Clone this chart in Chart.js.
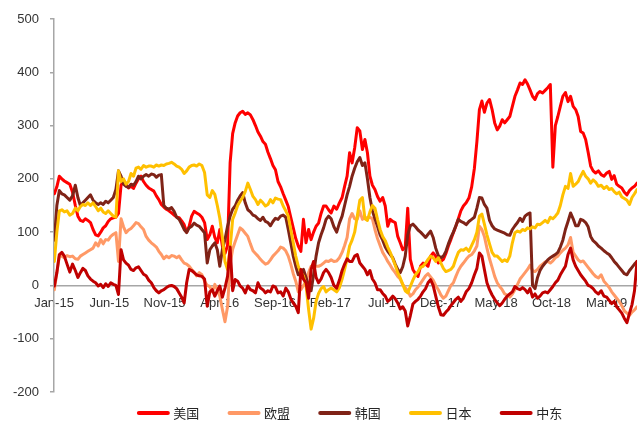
<!DOCTYPE html>
<html>
<head>
<meta charset="utf-8">
<script src="https://cdn.jsdelivr.net/npm/chart.js@4/dist/chart.umd.min.js"></script>
<style>
  html, body { margin: 0; padding: 0; background: #fff; }
  canvas { display: block; }
</style>
</head>
<body>
<canvas id="chart" width="638" height="421"></canvas>
<script>
// Weekly series, first observation on 2 Jan 2015
const firstWeek = { year: 2015, month: 0, day: 2 };

const seriesNames = ['美国', '欧盟', '韩国', '日本', '中东'];
const seriesColors = ['#FF0000', '#FF9966', '#7F2317', '#FFC000', '#C00000'];

const tickLabels = ['Jan-15', 'Jun-15', 'Nov-15', 'Apr-16', 'Sep-16', 'Feb-17',
                    'Jul-17', 'Dec-17', 'May-18', 'Oct-18', 'Mar-19'];

const usData = [
  172, 185, 205, 200, 196, 193, 190, 175, 150, 130,
  122, 120, 125, 122, 118, 105, 95, 93, 100, 108,
  112, 120, 125, 127, 128, 135, 188, 196, 190, 183,
  186, 182, 192, 200, 205, 195, 188, 183, 180, 177,
  168, 161, 152, 147, 143, 140, 136, 132, 128, 127,
  121, 114, 100, 111, 130, 139, 136, 133, 128, 118,
  86, 95, 111, 90, 80, 105, 74, 60, 75, 230,
  285, 305, 318, 324, 327, 321, 324, 320, 311, 300,
  288, 280, 270, 265, 250, 238, 225, 217, 195, 185,
  172, 160, 148, 128, 108, 88, 74, 64, 124, 80,
  105, 86, 100, 111, 117, 135, 149, 149, 142, 136,
  149, 143, 155, 165, 186, 205, 249, 230, 258, 296,
  290, 255, 274, 249, 205, 188, 180, 167, 158, 165,
  149, 111, 124, 120, 118, 92, 80, 67, 72, 145,
  49, 30, 22, 17, 36, 42, 40, 36, 55, 61,
  55, 42, 45, 49, 60, 74, 86, 99, 111, 125,
  140, 149, 155, 164, 185, 220, 270, 330, 346, 325,
  342, 349, 330, 305, 292, 299, 311, 305, 311, 317,
  336, 355, 367, 380, 377, 386, 378, 367, 355, 349,
  360, 364, 361, 366, 371, 377, 222, 300, 317, 336,
  355, 362, 345, 355, 336, 330, 317, 289, 286, 274,
  250, 224, 215, 211, 215, 208, 205, 211, 214, 199,
  206, 190, 186, 183, 175, 170, 178, 183, 186, 192
];

const euData = [
  -8, 24, 55, 55, 52, 56, 54, 55, 50, 49,
  55, 58, 61, 64, 67, 70, 80, 74, 86, 78,
  86, 85, 92, 96, 99, 45, 125, 110, 99, 104,
  107, 112, 118, 116, 110, 105, 92, 85, 80, 76,
  72, 64, 58, 50, 55, 52, 56, 55, 52, 55,
  48, 42, 40, 36, 30, 25, 18, 24, 20, 8,
  0, -2, -12, 2, -8, -20, -45, -68, -40, 40,
  68, 82, 95, 108, 104, 98, 92, 78, 65, 60,
  55, 49, 44, 40, 42, 48, 55, 60, 65, 72,
  70, 65, 55, 40, 22, 8, -12, -8, 0, 8,
  24, 36, 33, 36, 36, 38, 42, 46, 45, 48,
  45, 46, 52, 62, 75, 90, 125, 135, 125, 124,
  140, 124, 128, 126, 128, 125, 105, 88, 75, 62,
  54, 45, 38, 30, 24, 17, 12, 2, -4, -10,
  -20, -16, -8, -3, 4, 11, 18, 22, 16, 10,
  0, -8, -18, -24, -20, -10, 0, 5, 17, 28,
  36, 42, 49, 55, 58, 65, 74, 111, 105, 92,
  70, 50, 34, 17, 5, -2, -8, -16, -18, -22,
  -16, -8, 2, 12, 18, 24, 30, 38, 28, 26,
  30, 36, 40, 44, 45, 42, 46, 52, 55, 61,
  66, 70, 76, 90, 62, 55, 48, 44, 46, 40,
  34, 28, 22, 17, 14, 20, 8, 2, -4, -12,
  -18, -24, -30, -38, -48, -52, -56, -50, -46, -40
];

const krData = [
  85, 150, 178, 172, 170, 165, 160, 168, 188, 165,
  150, 155, 160, 165, 170, 160, 155, 152, 155, 152,
  158, 155, 160, 165, 180, 215, 205, 190, 186, 184,
  190, 188, 195, 205, 200, 205, 208, 205, 209, 208,
  203, 207, 208, 150, 145, 143, 146, 139, 128, 124,
  115, 105, 99, 108, 111, 117, 113, 111, 105, 99,
  42, 67, 74, 80, 67, 36, 67, 86, 111, 130,
  143, 149, 160, 168, 174, 155, 142, 138, 132, 130,
  125, 122, 128, 120, 118, 112, 120, 126, 124, 130,
  132, 128, 105, 80, 55, 36, 20, 24, 30, 15,
  0, -10, 20, 55, 80, 95, 108, 124, 130, 125,
  110, 100, 117, 130, 150, 170, 186, 205, 220, 232,
  240, 225, 230, 200, 165, 140, 125, 111, 95, 85,
  72, 64, 58, 52, 40, 30, 24, 35, 55, 95,
  112, 115, 110, 104, 100, 95, 90, 96, 102, 90,
  70, 56, 52, 55, 64, 78, 90, 100, 112, 124,
  120, 118, 114, 120, 124, 128, 145, 165, 164, 152,
  145, 122, 112, 106, 104, 102, 100, 98, 95, 94,
  105, 112, 118, 126, 120, 130, 134, 136, 0, -6,
  15, 28, 36, 42, 48, 52, 55, 58, 62, 72,
  85, 105, 120, 136, 125, 112, 112, 124, 122, 118,
  110, 92, 84, 80, 74, 70, 65, 61, 58, 52,
  45, 40, 34, 28, 22, 20, 28, 34, 40, 45
];

const jpData = [
  45, 100, 140, 142, 138, 140, 132, 135, 145, 140,
  148, 152, 150, 155, 150, 155, 148, 140, 145, 138,
  135, 140, 135, 130, 128, 215, 195, 200, 190, 195,
  210, 205, 220, 222, 218, 225, 222, 224, 224, 222,
  226, 224, 226, 225, 228, 229, 231, 228, 224, 222,
  218, 210, 215, 222, 225, 226, 224, 228, 225, 212,
  170, 165, 178, 171, 150, 126, 90, 45, 30, 70,
  124, 136, 150, 158, 165, 176, 192, 180, 167, 161,
  152, 160, 155, 149, 152, 161, 155, 164, 162, 161,
  149, 140, 130, 105, 80, 55, 36, 24, 18, 0,
  -45, -82, -62, -30, -15, -6, -2, -12, -8, -5,
  -8, -12, -4, 12, 30, 50, 74, 85, 100, 130,
  160, 165, 125, 122, 138, 150, 145, 124, 105, 92,
  84, 72, 62, 50, 38, 24, 14, 2, -10, -14,
  -2, 10, 20, 26, 34, 36, 42, 49, 55, 52,
  45, 52, 42, 32, 26, 28, 30, 36, 50, 62,
  67, 66, 70, 64, 75, 86, 100, 130, 134, 115,
  95, 78, 62, 55, 55, 50, 45, 48, 45, 55,
  80, 99, 102, 100, 105, 103, 108, 106, 110, 108,
  115, 114, 118, 122, 118, 128, 125, 130, 136, 150,
  170, 186, 182, 210, 186, 190, 195, 205, 214, 205,
  200, 192, 198, 194, 186, 188, 182, 186, 180, 182,
  176, 172, 175, 166, 163, 160, 152, 165, 172, 180
];

const meData = [
  -1, 24, 58, 62, 55, 40, 25, 40, 28, 15,
  24, 32, 28, 18, 12, 8, 5, -1, 2, -4,
  3, -2, 5, 2, 0, -17, 67, 48, 42, 38,
  30, 28, 33, 35, 28, 21, 18, 10, 5, -4,
  -10, -14, -10, -8, -4, -1, 0, -2, -6, -14,
  -22, -33, 5, 30, 28, 24, 20, 18, 17, 12,
  -39, -12, -8, -20, -10, -1, -22, -5, 17, 72,
  -10, 11, 8, -1, -5, -14, -1, -8, -10, -14,
  5, -5, -8, -14, -10, -12, -1, -3, -14, -12,
  -20, -5, -12, -25, -33, -39, -51, 30, 12, 5,
  -24, 30, 45, 15, 5, 12, 24, 30, 24, 15,
  0, -5, 10, 28, 40, 50, 45, 45, 55, 58,
  42, 36, 30, 20, 28, 12, 5, -8, -8, -15,
  -20, -30, -26, -20, -25, -33, -44, -40, -48, -76,
  -57, -35, -30, -26, -20, -12, -6, 5, 11, 0,
  -20, -40, -55, -56, -50, -45, -38, -32, -26, -22,
  -30, -24, -12, -6, 5, 20, 32, 61, 55, 30,
  5, -8, -18, -26, -33, -38, -33, -26, -20, -16,
  -12, -2, -6, -8, -4, -8, -14, -6, -22, -16,
  -24, -20, -14, -12, -14, -8, -2, 5, 10, 20,
  28, 36, 58, 70, 48, 36, 28, 20, 14, 8,
  0, -2, -6, -12, -16, -10, -20, -22, -28, -34,
  -30, -40, -46, -52, -62, -70, -52, -36, -10, 45
];

const seriesValues = [usData, euData, krData, jpData, meData];

// Position on the time axis, in months since the start of the first year
function weekPosition(i) {
  const d = new Date(Date.UTC(firstWeek.year, firstWeek.month, firstWeek.day + 7 * i));
  const y = d.getUTCFullYear(), m = d.getUTCMonth();
  const daysInMonth = new Date(Date.UTC(y, m + 1, 0)).getUTCDate();
  return (y - firstWeek.year) * 12 + m + (d.getUTCDate() - 1) / daysInMonth;
}

const monthNames = ['Jan','Feb','Mar','Apr','May','Jun','Jul','Aug','Sep','Oct','Nov','Dec'];
function labelPosition(label) {
  const [mon, yy] = label.split('-');
  return (2000 + Number(yy) - firstWeek.year) * 12 + monthNames.indexOf(mon);
}
const tickValues = tickLabels.map(labelPosition);

const lastX = weekPosition(usData.length - 1);

const datasets = seriesValues.map((vals, k) => ({
  label: seriesNames[k],
  data: vals.map((v, i) => ({ x: weekPosition(i), y: v })),
  borderColor: seriesColors[k],
  backgroundColor: seriesColors[k],
  borderWidth: 3,
  pointRadius: 0,
  pointHoverRadius: 0,
  tension: 0,
  borderJoinStyle: 'round',
  borderCapStyle: 'round',
  order: seriesValues.length - 1 - k
}));

// Legend row under the plot: short thick line followed by the series name
const bottomLegend = {
  id: 'bottomLegend',
  afterDraw(chart) {
    const { ctx, chartArea } = chart;
    const lineLen = 29, cap = 2, textGap = 3.5, step = 90.7, yMid = 413;
    ctx.save();
    ctx.font = '13px "Noto Sans CJK SC", sans-serif';
    ctx.textBaseline = 'middle';
    ctx.textAlign = 'left';
    const ds = chart.data.datasets;
    const lastW = ctx.measureText(ds[ds.length - 1].label).width;
    const total = (ds.length - 1) * step + lineLen + 2 * cap + textGap + lastW;
    const center = (chartArea.left + chartArea.right) / 2 + 4;
    let x = center - total / 2;
    ds.forEach(d => {
      ctx.strokeStyle = d.borderColor;
      ctx.lineWidth = 4;
      ctx.lineCap = 'round';
      ctx.beginPath();
      ctx.moveTo(x + cap, yMid);
      ctx.lineTo(x + cap + lineLen, yMid);
      ctx.stroke();
      ctx.fillStyle = '#262626';
      ctx.fillText(d.label, x + lineLen + 2 * cap + textGap, yMid);
      x += step;
    });
    ctx.restore();
  }
};

Chart.defaults.font.family = '"Liberation Sans", Arial, sans-serif';
Chart.defaults.font.size = 13;
Chart.defaults.color = '#333333';

new Chart(document.getElementById('chart'), {
  type: 'line',
  data: { datasets },
  options: {
    responsive: false,
    devicePixelRatio: 1,
    animation: false,
    layout: { padding: { top: 19, right: 1, bottom: 29, left: 0 } },
    plugins: {
      legend: { display: false },
      tooltip: { enabled: false }
    },
    scales: {
      x: {
        type: 'linear',
        position: { y: 0 },
        min: 0,
        max: lastX,
        afterBuildTicks: scale => { scale.ticks = tickValues.map(v => ({ value: v })); },
        ticks: {
          autoSkip: false,
          maxRotation: 0,
          padding: 10,
          color: '#333333',
          callback: (v, i) => tickLabels[i]
        },
        grid: { display: false, drawTicks: false },
        border: { display: true, color: '#a6a6a6', width: 1.5 }
      },
      y: {
        min: -200,
        max: 500,
        afterFit: scale => { scale.width = 54; },
        ticks: { stepSize: 100, padding: 11, color: '#333333' },
        grid: { drawOnChartArea: false, drawTicks: true, tickLength: 4, color: '#a6a6a6', lineWidth: 1.5 },
        border: { display: true, color: '#a6a6a6', width: 1.5 }
      }
    }
  },
  plugins: [bottomLegend]
});
</script>
</body>
</html>
